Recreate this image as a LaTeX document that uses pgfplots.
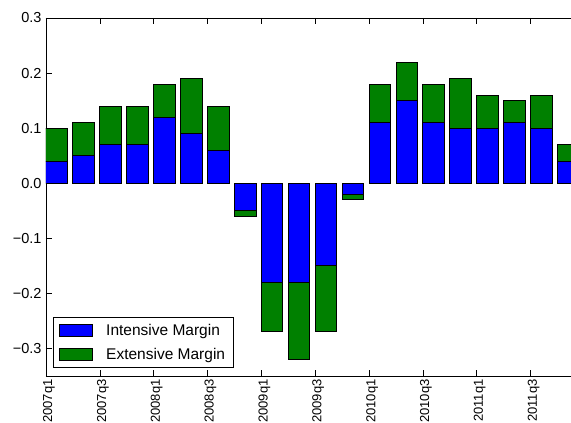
\documentclass[border=0pt]{standalone}
\usepackage{fontspec}
\setmainfont{Liberation Sans}
\usepackage{pgfplots}
\usepackage{pgfplotstable}
\pgfplotsset{compat=1.18}

\definecolor{mblue}{RGB}{0,0,255}
\definecolor{mgreen}{RGB}{0,128,0}

% quarterly contributions: intensive and extensive margins
\pgfplotstableread{
x    int    ext
0.4  0.04   0.06
1.4  0.05   0.06
2.4  0.07   0.07
3.4  0.07   0.07
4.4  0.12   0.06
5.4  0.09   0.10
6.4  0.06   0.08
7.4  -0.05  -0.01
8.4  -0.18  -0.09
9.4  -0.18  -0.14
10.4 -0.15  -0.12
11.4 -0.02  -0.01
12.4 0.11   0.07
13.4 0.15   0.07
14.4 0.11   0.07
15.4 0.10   0.09
16.4 0.10   0.06
17.4 0.11   0.04
18.4 0.10   0.06
19.4 0.04   0.03
}\margins

\begin{document}
\begin{tikzpicture}
\begin{axis}[
  scale only axis,
  width=525pt, height=358pt,
  xmin=0, xmax=19.5,
  ymin=-0.35, ymax=0.3,
  ybar stacked, bar width=0.8,
  axis x line=box, axis y line=left,
  axis line style={-, line width=0.9pt},
  tick align=inside,
  xtick pos=both,
  major tick length=6pt,
  tick style={line width=0.6pt, black},
  xtick={0,2,...,18},
  xticklabels={2007q1,2007q3,2008q1,2008q3,2009q1,2009q3,2010q1,2010q3,2011q1,2011q3},
  xticklabel style={rotate=90, anchor=east, font=\fontsize{13}{14}\selectfont, yshift=-3pt},
  ytick={-0.3,-0.2,-0.1,0,0.1,0.2,0.3},
  yticklabels={−0.3,−0.2,−0.1,0.0,0.1,0.2,0.3},
  yticklabel style={font=\fontsize{14.5}{16}\selectfont, xshift=-1pt},
  legend style={at={(rel axis cs:0.0133,0.022)}, anchor=south west,
    draw=black, line width=0.9pt, font=\fontsize{15.5}{17}\selectfont,
    inner xsep=6pt, inner ysep=5pt, row sep=7pt,
    /tikz/every odd column/.append style={column sep=11pt},
    /tikz/every even column/.append style={column sep=4pt}},
  legend cell align=left,
  legend image code/.code={\draw[#1, line width=0.8pt] (0pt,-6pt) rectangle (33pt,6pt);},
]
\addplot[fill=mblue, draw=black, line width=1pt] table[x=x, y=int] {\margins};
\addplot[fill=mgreen, draw=black, line width=1pt] table[x=x, y=ext] {\margins};
\legend{Intensive Margin, Extensive Margin}
\coordinate (sw) at (rel axis cs:0,0);
\coordinate (ne) at (rel axis cs:1,1);
\end{axis}
\pgfresetboundingbox
\path ([xshift=-46pt,yshift=-47pt]sw) rectangle ([yshift=18pt]ne);
\end{tikzpicture}
\end{document}
